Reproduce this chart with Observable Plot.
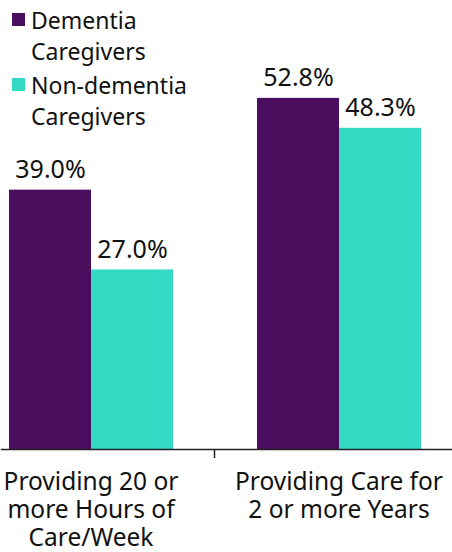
<!DOCTYPE html>
<html>
<head>
<meta charset="utf-8">
<script src="https://cdn.jsdelivr.net/npm/d3@7"></script>
<script src="https://cdn.jsdelivr.net/npm/@observablehq/plot@0.6"></script>
<style>
  html, body { margin: 0; padding: 0; background: #fff; }
  #wrap { position: relative; width: 452px; height: 552px; font-family: "Noto Sans", sans-serif; }
  #legend { position: absolute; left: 12px; top: 5px; font-size: 23px; line-height: 31px; color: #111; z-index: 2; }
  .item { display: flex; align-items: flex-start; margin-bottom: 3px; }
  .sw { width: 13px; height: 13px; margin-top: 8px; margin-right: 6px; flex: none; }
</style>
</head>
<body>
<div id="wrap"><div id="legend"></div></div>
<script>
const categories = ["Providing 20 or more Hours of Care/Week", "Providing Care for 2 or more Years"];
const tickLabels = ["Providing 20 or\nmore Hours of\nCare/Week", "Providing Care for\n2 or more Years"];
const series = ["Dementia Caregivers", "Non-dementia Caregivers"];
const legendLabels = ["Dementia\nCaregivers", "Non-dementia\nCaregivers"];
const dementiaValues = [39.0, 52.8];
const nonDementiaValues = [27.0, 48.3];
const colors = ["#4b0e5f", "#35dac5"];

const data = [];
categories.forEach((c, i) => {
  data.push({category: c, series: series[0], value: dementiaValues[i]});
  data.push({category: c, series: series[1], value: nonDementiaValues[i]});
});

const legend = document.getElementById("legend");
series.forEach((s, i) => {
  const item = document.createElement("div");
  item.className = "item";
  const sw = document.createElement("div");
  sw.className = "sw";
  sw.style.background = colors[i];
  const t = document.createElement("div");
  t.innerHTML = legendLabels[i].replace("\n", "<br>");
  item.appendChild(sw); item.appendChild(t);
  legend.appendChild(item);
});

const chart = Plot.plot({
  width: 452,
  height: 552,
  marginLeft: 7,
  marginRight: 31,
  marginTop: 50,
  marginBottom: 103,
  style: {fontFamily: "Noto Sans, sans-serif", background: "transparent"},
  fx: {domain: categories, paddingInner: 0.336, paddingOuter: 0, label: null, axis: null},
  x: {domain: series, padding: 0, axis: null},
  y: {domain: [0, 60], axis: null},
  color: {domain: series, range: colors},
  marks: [
    Plot.barY(data, {fx: "category", x: "series", y: "value", fill: "series"}),
    Plot.text(data, {fx: "category", x: "series", y: "value", text: d => d.value.toFixed(1) + "%",
      lineAnchor: "bottom", dy: -12, fontSize: 25, fill: "#111"}),
    Plot.axisFx({anchor: "bottom", tickSize: 0, tickPadding: 20, fontSize: 24.5, lineHeight: 1.15,
      tickFormat: d => tickLabels[categories.indexOf(d)], label: null, fill: "#111"}),
    Plot.frame({facet: "super", anchor: "bottom", insetLeft: -7, insetRight: -31, stroke: "#222", strokeWidth: 1.5})
  ]
});
chart.style.position = "absolute";
chart.style.left = "0";
chart.style.top = "0";
document.getElementById("wrap").appendChild(chart);

// tick between the two category groups, placed from the fx scale
const fx = chart.scale("fx");
const y = chart.scale("y");
const mid = (fx.apply(categories[0]) + fx.bandwidth + fx.apply(categories[1])) / 2;
const y0 = y.apply(0);
d3.select(chart).append("line")
  .attr("x1", mid).attr("x2", mid)
  .attr("y1", y0).attr("y2", y0 + 9)
  .attr("stroke", "#222").attr("stroke-width", 1.5);
</script>
</body>
</html>
